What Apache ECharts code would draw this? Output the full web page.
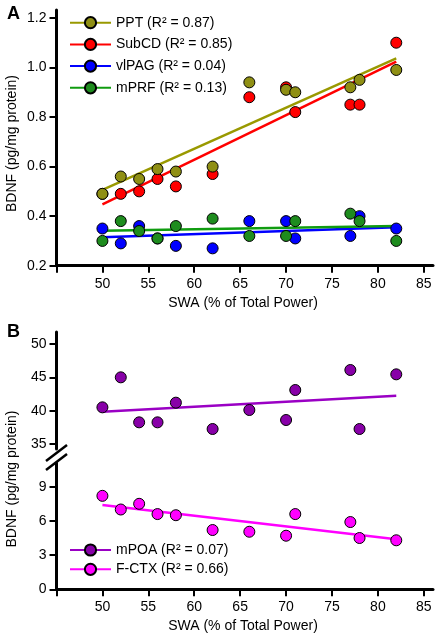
<!DOCTYPE html>
<html>
<head>
<meta charset="utf-8">
<script src="https://cdn.jsdelivr.net/npm/echarts@6/dist/echarts.min.js"></script>
<style>
html,body{margin:0;padding:0;background:#fff;}
#c{width:440px;height:640px;}
</style>
</head>
<body>
<div id="c"></div>
<script>
// ---- data ----
const swa = [50, 52, 54, 56, 58, 62, 66, 70, 71, 77, 78, 82];
const ppt = [0.49, 0.56, 0.55, 0.59, 0.58, 0.60, 0.94, 0.91, 0.90, 0.92, 0.95, 0.99];
const subcd = [0.49, 0.49, 0.50, 0.55, 0.52, 0.57, 0.88, 0.92, 0.82, 0.85, 0.85, 1.10];
const vlpag = [0.35, 0.29, 0.36, 0.31, 0.28, 0.27, 0.38, 0.38, 0.31, 0.32, 0.40, 0.35];
const mprf = [0.30, 0.38, 0.34, 0.31, 0.36, 0.39, 0.32, 0.32, 0.38, 0.41, 0.38, 0.30];
const mpoa = [40.5, 45.0, 38.25, 38.25, 41.2, 37.25, 40.1, 38.6, 43.1, 46.1, 37.25, 45.45];
const fctx = [8.2, 7.0, 7.5, 6.6, 6.5, 5.2, 5.05, 4.7, 6.6, 5.9, 4.5, 4.3];

// regression line end points
const fitX = [50, 82];
const pptFit = [0.506, 1.037];
const subcdFit = [0.448, 1.024];
const vlpagFit = [0.315, 0.355];
const mprfFit = [0.341, 0.360];
const mpoaFit = [39.85, 42.25];
const fctxFit = [7.39, 4.39];

// names / tick labels
const namesA = ['PPT (R\u00b2 = 0.87)', 'SubCD (R\u00b2 = 0.85)', 'vlPAG (R\u00b2 = 0.04)', 'mPRF (R\u00b2 = 0.13)'];
const namesB = ['mPOA (R\u00b2 = 0.07)', 'F-CTX (R\u00b2 = 0.66)'];
const xTicks = [45, 50, 55, 60, 65, 70, 75, 80, 85];
const xLabels = [50, 55, 60, 65, 70, 75, 80, 85];
const yTicksA = [0.2, 0.4, 0.6, 0.8, 1.0, 1.2];
const yTicksBUpper = [35, 40, 45, 50];
const yTicksBLower = [0, 3, 6, 9];
const xTitle = 'SWA (% of Total Power)';
const yTitle = 'BDNF (pg/mg protein)';

// ---- chart ----
const FONT = "'Liberation Sans', Arial, sans-serif";
const pair = (xs, ys) => xs.map((x, i) => [x, ys[i]]);

function xAxisDef(gridIndex, show) {
  return {
    type: 'value', gridIndex, min: 45, max: 86, show,
    axisLine: { show: true, lineStyle: { color: '#000', width: 3 } },
    axisTick: { show: true, length: 7, lineStyle: { color: '#000', width: 2 }, customValues: xTicks },
    axisLabel: { show: true, margin: 11, color: '#000', fontSize: 14, fontFamily: FONT, customValues: xLabels },
    splitLine: { show: false }
  };
}
function yAxisDef(gridIndex, min, max, ticks, dec) {
  return {
    type: 'value', gridIndex, min, max,
    axisLine: { show: true, lineStyle: { color: '#000', width: 3 } },
    axisTick: { show: true, length: 7, lineStyle: { color: '#000', width: 2 }, customValues: ticks },
    axisLabel: { margin: 10, color: '#000', fontSize: 14, fontFamily: FONT, customValues: ticks,
      formatter: v => dec ? Number(v).toFixed(dec) : String(v) },
    splitLine: { show: false }
  };
}

function fitSeries(name, ys, fitYs, lineColor, fill, xi, yi) {
  return [
    {
      name, type: 'line', xAxisIndex: xi, yAxisIndex: yi,
      data: pair(fitX, fitYs), showSymbol: false, symbol: 'circle', symbolSize: 11,
      lineStyle: { color: lineColor, width: 2.5 },
      itemStyle: { color: fill, borderColor: '#000', borderWidth: 1 },
      z: 2, silent: true
    },
    {
      name: name + ' pts', type: 'scatter', xAxisIndex: xi, yAxisIndex: yi,
      data: pair(swa, ys), symbol: 'circle', symbolSize: 11,
      itemStyle: { color: fill, borderColor: '#000', borderWidth: 1, opacity: 1 },
      z: 3, silent: true
    }
  ];
}

const series = [].concat(
  fitSeries(namesA[2], vlpag, vlpagFit, '#0000ff', '#0000ff', 0, 0),
  fitSeries(namesA[3], mprf, mprfFit, '#109c10', '#1e8c1e', 0, 0),
  fitSeries(namesA[1], subcd, subcdFit, '#ff0000', '#ff0000', 0, 0),
  fitSeries(namesA[0], ppt, pptFit, '#999900', '#8f8f14', 0, 0),
  fitSeries(namesB[0], mpoa, mpoaFit, '#9a00c4', '#8800a8', 1, 1),
  fitSeries(namesB[1], fctx, fctxFit, '#ff00ff', '#ff00ff', 2, 2)
);

const legendCommon = {
  orient: 'vertical', itemWidth: 41, itemHeight: 14, padding: 0,
  textStyle: { color: '#000', fontSize: 14, fontFamily: FONT },
  selectedMode: false
};

const chart = echarts.init(document.getElementById('c'), null, { renderer: 'canvas' });
chart.setOption({
  animation: false,
  backgroundColor: '#fff',
  grid: [
    { left: 56.5, top: 10, width: 376.5, height: 255.7 },
    { left: 56.5, top: 332, width: 376.5, height: 117 },
    { left: 56.5, top: 463, width: 376.5, height: 126.3 }
  ],
  xAxis: [xAxisDef(0, true), xAxisDef(1, false), xAxisDef(2, true)],
  yAxis: [
    yAxisDef(0, 0.2, 1.232, yTicksA, 1),
    yAxisDef(1, 34.25, 51.8, yTicksBUpper, 0),
    yAxisDef(2, 0, 11.08, yTicksBLower, 0)
  ],
  legend: [
    Object.assign({}, legendCommon, { data: namesA, left: 69, top: 15.7, itemGap: 7.7 }),
    Object.assign({}, legendCommon, { data: namesB, left: 69, top: 543, itemGap: 5.3 })
  ],
  series,
  graphic: [
    { type: 'text', x: 7, y: 14.5, style: { text: 'A', font: 'bold 18px ' + FONT, fill: '#000', verticalAlign: 'middle' } },
    { type: 'text', x: 7, y: 332, style: { text: 'B', font: 'bold 18px ' + FONT, fill: '#000', verticalAlign: 'middle' } },
    { type: 'text', x: 12.5, y: 143.5, rotation: Math.PI / 2, style: { text: yTitle, font: '14px ' + FONT, fill: '#000', align: 'center', verticalAlign: 'middle' } },
    { type: 'text', x: 12.5, y: 479, rotation: Math.PI / 2, style: { text: yTitle, font: '14px ' + FONT, fill: '#000', align: 'center', verticalAlign: 'middle' } },
    { type: 'text', x: 243, y: 303, style: { text: xTitle, font: '14px ' + FONT, fill: '#000', align: 'center', verticalAlign: 'middle' } },
    { type: 'text', x: 243, y: 626, style: { text: xTitle, font: '14px ' + FONT, fill: '#000', align: 'center', verticalAlign: 'middle' } },
    { type: 'line', shape: { x1: 46, y1: 461, x2: 67, y2: 445 }, style: { stroke: '#000', lineWidth: 2.5 } },
    { type: 'line', shape: { x1: 46, y1: 470, x2: 67, y2: 454 }, style: { stroke: '#000', lineWidth: 2.5 } }
  ]
});
</script>
</body>
</html>
